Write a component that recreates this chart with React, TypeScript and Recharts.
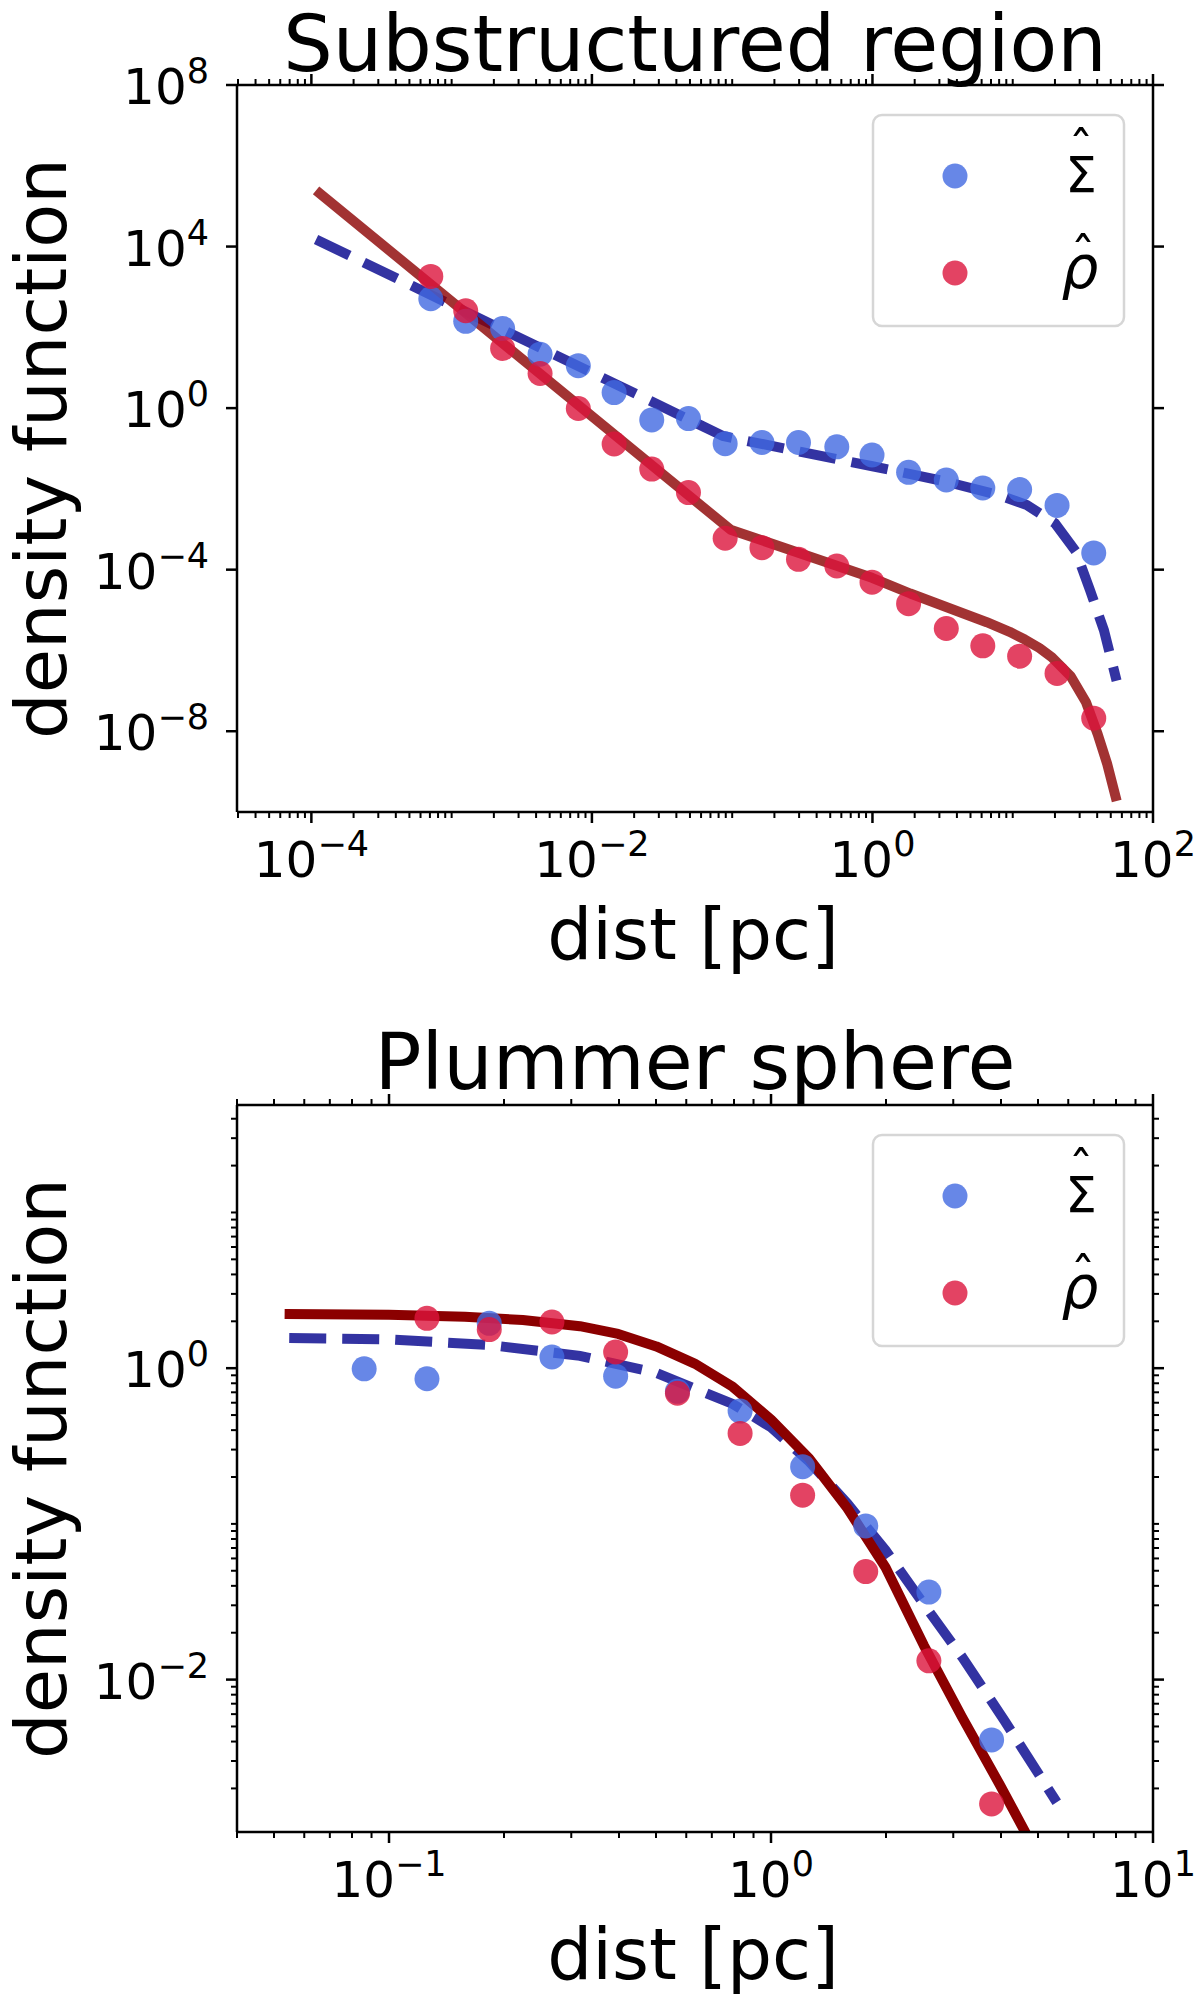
import { ComposedChart, XAxis, YAxis, Scatter, Line } from 'recharts'

const FONT = "'DejaVu Sans', sans-serif"

// Substructured region (top panel)
const subDist = [7.1e-4, 1.26e-3, 2.31e-3, 4.27e-3, 8.0e-3, 0.0144, 0.0267, 0.0488, 0.0891, 0.163, 0.297, 0.557, 0.993, 1.81, 3.36, 6.12, 11.2, 20.7, 37.8]
const subSigma = [510, 141, 93, 21.6, 11.2, 2.43, 0.51, 0.55, 0.132, 0.141, 0.141, 0.11, 0.069, 0.0257, 0.0166, 0.0105, 0.0096, 0.0039, 2.6e-4]
const subRho = [1820, 257, 30, 7.2, 0.98, 0.129, 0.031, 0.0081, 6.0e-4, 3.5e-4, 1.8e-4, 1.23e-4, 4.9e-5, 1.44e-5, 3.5e-6, 1.3e-6, 7.2e-7, 2.7e-7, 2.1e-8]
const subSigmaFitDist = [1.08e-4, 0.0859, 0.316, 1.0, 3.16, 7.94, 12.6, 20.0, 28.2, 35.5, 44.7, 55.0]
const subSigmaFit = [1.5e4, 0.204, 0.081, 0.0363, 0.0158, 0.00708, 0.00398, 1.41e-3, 2.82e-4, 3.16e-5, 3.16e-6, 1.78e-7]
const subRhoFitDist = [1.08e-4, 0.0973, 0.993, 1.86, 6.53, 9.5, 12.2, 15.5, 19.0, 25.9, 33.3, 40.3, 47.0, 55.1]
const subRhoFit = [2.45e5, 9.77e-4, 6.3e-5, 2.57e-5, 5.0e-6, 2.9e-6, 1.86e-6, 1.15e-6, 6.8e-7, 2.29e-7, 5.2e-8, 8.5e-9, 1.6e-9, 1.86e-10]

// Plummer sphere (bottom panel)
const plumSigmaDist = [0.0861, 0.1257, 0.183, 0.267, 0.392, 0.569, 0.83, 1.21, 1.77, 2.59, 3.78]
const plumSigma = [0.99, 0.855, 1.94, 1.18, 0.889, 0.71, 0.53, 0.233, 0.097, 0.0365, 0.0041]
const plumRhoDist = [0.1257, 0.183, 0.267, 0.392, 0.569, 0.83, 1.21, 1.77, 2.59, 3.78]
const plumRho = [2.09, 1.77, 1.98, 1.27, 0.69, 0.381, 0.153, 0.0494, 0.0132, 0.00159]
const plumSigmaFitDist = [0.0548, 0.1, 0.183, 0.316, 0.501, 0.794, 1.0, 1.259, 1.585, 1.995, 2.512, 3.162, 4.083, 5.598]
const plumSigmaFit = [1.56, 1.53, 1.41, 1.2, 0.933, 0.589, 0.417, 0.251, 0.135, 0.0676, 0.0305, 0.014, 0.00546, 0.00163]
const plumRhoFitDist = [0.0533, 0.1, 0.158, 0.224, 0.316, 0.398, 0.501, 0.631, 0.794, 1.0, 1.259, 1.585, 1.995, 2.512, 3.162, 3.981, 4.677]
const plumRhoFit = [2.23, 2.2, 2.14, 2.04, 1.86, 1.66, 1.38, 1.07, 0.759, 0.468, 0.263, 0.126, 0.0525, 0.0166, 0.00575, 0.00209, 0.001]

// axis setup
const subXDomain = [2.95e-5, 100]
const subYDomain = [1e-10, 1e8]
const subXMajor = [1e-4, 1e-2, 1, 1e2]
const subYMajor = [1e-8, 1e-4, 1, 1e4, 1e8]
const plumXDomain = [0.04, 10]
const plumYDomain = [1.05e-3, 49]
const plumXMajor = [0.1, 1, 10]
const plumYMajor = [1e-2, 1]

type Pt = { x: number; y: number }
const zip = (xs: number[], ys: number[]): Pt[] => xs.map((x, i) => ({ x, y: ys[i] }))

function logTicks(lo: number, hi: number, minExp: number, maxExp: number) {
  const out: number[] = []
  for (let n = minExp; n <= maxExp; n++) {
    for (let k = 1; k <= 9; k++) {
      const v = k * Math.pow(10, n)
      if (v >= lo * 0.999 && v <= hi * 1.001) out.push(v)
    }
  }
  return out
}

const isMajor = (v: number, majors: number[]) =>
  majors.some((m) => Math.abs(Math.log10(v) - Math.log10(m)) < 1e-6)

const expText = (v: number) => {
  const e = Math.round(Math.log10(v))
  return e < 0 ? '\u2212' + Math.abs(e) : String(e)
}

type Side = 'bottom' | 'top' | 'left' | 'right'

function makeTick(side: Side, majors: number[]) {
  return (props: any) => {
    const { x, y, payload } = props
    const v = payload.value
    const major = isMajor(v, majors)
    const len = major ? 11 : 6
    let x2 = x
    let y2 = y
    if (side === 'bottom') y2 = y + len
    if (side === 'top') y2 = y - len
    if (side === 'left') x2 = x - len
    if (side === 'right') x2 = x + len
    return (
      <g>
        <line x1={x} y1={y} x2={x2} y2={y2} stroke="#000" strokeWidth={major ? 2.5 : 2} />
        {major && side === 'bottom' && (
          <text x={x} y={y + 65} textAnchor="middle" fontFamily={FONT} fontSize={50} fill="#000">
            <tspan>10</tspan>
            <tspan dy={-21} fontSize={35}>{expText(v)}</tspan>
          </text>
        )}
        {major && side === 'left' && (
          <text x={x - 28} y={y + 19} textAnchor="end" fontFamily={FONT} fontSize={50} fill="#000">
            <tspan>10</tspan>
            <tspan dy={-21} fontSize={35}>{expText(v)}</tspan>
          </text>
        )}
      </g>
    )
  }
}

const axisLine = { stroke: '#000', strokeWidth: 2.5 }

const dot = (color: string) => (props: any) => (
  <circle cx={props.cx} cy={props.cy} r={12.5} fill={color} fillOpacity={0.8} />
)

interface PanelProps {
  height: number
  plotTop: number
  plotBottom: number
  xDomain: number[]
  yDomain: number[]
  xTicks: number[]
  yTicks: number[]
  xMajor: number[]
  yMajor: number[]
  sigma: Pt[]
  rho: Pt[]
  sigmaFit: Pt[]
  rhoFit: Pt[]
  rhoOpacity: number
}

function Panel(p: PanelProps) {
  const common = {
    type: 'number' as const,
    scale: 'log' as const,
    allowDataOverflow: true,
    interval: 0 as const,
    tickSize: 0,
    tickMargin: 0,
    tickLine: false,
    axisLine,
  }
  return (
    <ComposedChart
      width={1200}
      height={p.height}
      margin={{ top: p.plotTop - 20, right: 27, bottom: p.height - p.plotBottom - 100, left: 137 }}
    >
      <XAxis {...common} dataKey="x" domain={p.xDomain} ticks={p.xTicks} height={100} tick={makeTick('bottom', p.xMajor)} />
      <XAxis {...common} xAxisId="t" orientation="top" dataKey="x" domain={p.xDomain} ticks={p.xTicks} height={20} tick={makeTick('top', p.xMajor)} />
      <YAxis {...common} dataKey="y" domain={p.yDomain} ticks={p.yTicks} width={100} tick={makeTick('left', p.yMajor)} />
      <YAxis {...common} yAxisId="r" orientation="right" dataKey="y" domain={p.yDomain} ticks={p.yTicks} width={20} tick={makeTick('right', p.yMajor)} />
      <Scatter name="sigma" data={p.sigma} shape={dot('#4169E1')} isAnimationActive={false} />
      <Scatter name="rho" data={p.rho} shape={dot('#DC143C')} isAnimationActive={false} />
      <Line
        data={p.sigmaFit}
        dataKey="y"
        type="linear"
        stroke="#00008B"
        strokeOpacity={0.8}
        strokeWidth={10}
        strokeDasharray="37 16"
        dot={false}
        activeDot={false}
        isAnimationActive={false}
      />
      <Line
        data={p.rhoFit}
        dataKey="y"
        type="linear"
        stroke="#8B0000"
        strokeOpacity={p.rhoOpacity}
        strokeWidth={10}
        strokeLinejoin="round"
        dot={false}
        activeDot={false}
        isAnimationActive={false}
      />
    </ComposedChart>
  )
}

function LegendBox({ x0, y0 }: { x0: number; y0: number }) {
  return (
    <g fontFamily={FONT}>
      <rect x={x0 + 1} y={y0 + 1} width={251} height={211} rx={9} fill="#fff" fillOpacity={0.8} stroke="#d6d6d6" strokeWidth={2.5} />
      <circle cx={x0 + 83} cy={y0 + 62} r={12.5} fill="#4169E1" fillOpacity={0.8} />
      <circle cx={x0 + 83} cy={y0 + 159} r={12.5} fill="#DC143C" fillOpacity={0.8} />
      <text x={x0 + 209} y={y0 + 53} textAnchor="middle" fontSize={50}>ˆ</text>
      <text x={x0 + 209} y={y0 + 78} textAnchor="middle" fontSize={50}>Σ</text>
      <text x={x0 + 211} y={y0 + 159} textAnchor="middle" fontSize={50}>ˆ</text>
      <text x={x0 + 208} y={y0 + 174} textAnchor="middle" fontSize={58} fontStyle="italic">ρ</text>
    </g>
  )
}

export default function App() {
  return (
    <div style={{ position: 'absolute', left: 0, top: 0, width: 1200, height: 1999, background: '#fff' }}>
      <div style={{ position: 'absolute', left: 0, top: 0 }}>
        <Panel
          height={1000}
          plotTop={85}
          plotBottom={812}
          xDomain={subXDomain}
          yDomain={subYDomain}
          xTicks={logTicks(subXDomain[0], subXDomain[1], -5, 2)}
          yTicks={subYMajor}
          xMajor={subXMajor}
          yMajor={subYMajor}
          sigma={zip(subDist, subSigma)}
          rho={zip(subDist, subRho)}
          sigmaFit={zip(subSigmaFitDist, subSigmaFit)}
          rhoFit={zip(subRhoFitDist, subRhoFit)}
          rhoOpacity={0.8}
        />
      </div>
      <div style={{ position: 'absolute', left: 0, top: 1000 }}>
        <Panel
          height={999}
          plotTop={105}
          plotBottom={832}
          xDomain={plumXDomain}
          yDomain={plumYDomain}
          xTicks={logTicks(plumXDomain[0], plumXDomain[1], -2, 1)}
          yTicks={logTicks(plumYDomain[0], plumYDomain[1], -3, 1)}
          xMajor={plumXMajor}
          yMajor={plumYMajor}
          sigma={zip(plumSigmaDist, plumSigma)}
          rho={zip(plumRhoDist, plumRho)}
          sigmaFit={zip(plumSigmaFitDist, plumSigmaFit)}
          rhoFit={zip(plumRhoFitDist, plumRhoFit)}
          rhoOpacity={1}
        />
      </div>
      <svg
        width={1200}
        height={1999}
        style={{ position: 'absolute', left: 0, top: 0, pointerEvents: 'none' }}
        fontFamily={FONT}
      >
        <text x={695} y={71} textAnchor="middle" fontSize={78}>Substructured region</text>
        <text x={693} y={959} textAnchor="middle" fontSize={71}>dist [pc]</text>
        <text x={66} y={448.5} textAnchor="middle" fontSize={72} transform="rotate(-90 66 448.5)">density function</text>
        <LegendBox x0={872} y0={114} />

        <text x={695} y={1089} textAnchor="middle" fontSize={78}>Plummer sphere</text>
        <text x={693} y={1979} textAnchor="middle" fontSize={71}>dist [pc]</text>
        <text x={66} y={1468.5} textAnchor="middle" fontSize={72} transform="rotate(-90 66 1468.5)">density function</text>
        <LegendBox x0={872} y0={1134} />
      </svg>
    </div>
  )
}
